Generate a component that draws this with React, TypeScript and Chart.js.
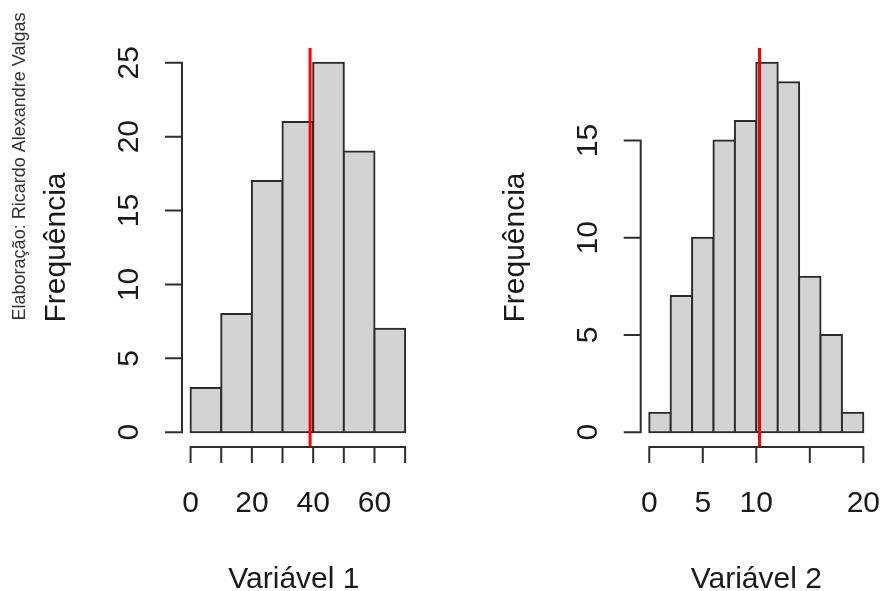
import React, { useEffect, useRef } from 'react';
import { Chart, registerables } from 'chart.js';

Chart.register(...registerables);

// ---- Data ----
const binCenters1 = [5, 15, 25, 35, 45, 55, 65];
const counts1 = [3, 8, 17, 21, 25, 19, 7];
const mean1 = 39.0;
const xTicks1 = [0, 10, 20, 30, 40, 50, 60, 70];
const xTickLabels1 = ['0', '', '20', '', '40', '', '60', ''];
const yTicks1 = [0, 5, 10, 15, 20, 25];
const yTickLabels1 = ['0', '5', '10', '15', '20', '25'];

const binCenters2 = [1, 3, 5, 7, 9, 11, 13, 15, 17, 19];
const counts2 = [1, 7, 10, 15, 16, 19, 18, 8, 5, 1];
const mean2 = 10.3;
const xTicks2 = [0, 5, 10, 15, 20];
const xTickLabels2 = ['0', '5', '10', '', '20'];
const yTicks2 = [0, 5, 10, 15];
const yTickLabels2 = ['0', '5', '10', '15'];

const xTitle1 = 'Variável 1';
const xTitle2 = 'Variável 2';
const yTitle = 'Frequência';
const caption = 'Elaboração: Ricardo Alexandre Valgas';

const FONT = '"Liberation Sans", Arial, Helvetica, sans-serif';
const TEXT = '#1a1a1a';
const AXIS = '#2e2e2e';

const rAxes = {
  id: 'rAxes',
  afterDraw(chart: any, _args: any, opts: any) {
    const ctx = chart.ctx;
    const xs = chart.scales.x;
    const ys = chart.scales.y;
    const ca = chart.chartArea;
    ctx.save();
    ctx.strokeStyle = AXIS;
    ctx.lineWidth = 2;
    ctx.lineCap = 'butt';

    // x axis
    const y0 = ca.bottom;
    const xt = opts.xTicks as number[];
    ctx.beginPath();
    ctx.moveTo(xs.getPixelForValue(xt[0]) - 1, y0);
    ctx.lineTo(xs.getPixelForValue(xt[xt.length - 1]) + 1, y0);
    xt.forEach((v) => {
      const x = xs.getPixelForValue(v);
      ctx.moveTo(x, y0);
      ctx.lineTo(x, y0 + 16);
    });
    ctx.stroke();

    // y axis
    const x0 = ca.left;
    const yt = opts.yTicks as number[];
    ctx.beginPath();
    ctx.moveTo(x0, ys.getPixelForValue(yt[0]) + 1);
    ctx.lineTo(x0, ys.getPixelForValue(yt[yt.length - 1]) - 1);
    yt.forEach((v) => {
      const y = ys.getPixelForValue(v);
      ctx.moveTo(x0, y);
      ctx.lineTo(x0 - 17, y);
    });
    ctx.stroke();

    ctx.fillStyle = TEXT;
    ctx.font = `${opts.fontSize}px ${FONT}`;
    ctx.textBaseline = 'alphabetic';
    ctx.textAlign = 'center';
    xt.forEach((v, i) => {
      const lab = opts.xTickLabels[i];
      if (lab) ctx.fillText(lab, xs.getPixelForValue(v), y0 + 65);
    });
    yt.forEach((v, i) => {
      const lab = opts.yTickLabels[i];
      if (!lab) return;
      ctx.save();
      ctx.translate(x0 - 44, ys.getPixelForValue(v));
      ctx.rotate(-Math.PI / 2);
      ctx.fillText(lab, 0, 0);
      ctx.restore();
    });

    // titles
    ctx.fillText(opts.xTitle, (ca.left + ca.right) / 2 + (opts.xTitleShift || 0), y0 + 141);
    ctx.save();
    ctx.translate(x0 - 117, (ca.top + ca.bottom) / 2);
    ctx.rotate(-Math.PI / 2);
    ctx.fillText(opts.yTitle, 0, 0);
    ctx.restore();

    if (opts.caption) {
      ctx.save();
      ctx.font = `${opts.captionSize}px ${FONT}`;
      ctx.fillStyle = '#333333';
      ctx.translate(opts.captionX, opts.captionY);
      ctx.rotate(-Math.PI / 2);
      ctx.fillText(opts.caption, 0, 0);
      ctx.restore();
    }
    ctx.restore();
  },
};

type HistProps = {
  left: number;
  width: number;
  pad: { left: number; right: number; top: number; bottom: number };
  centers: number[];
  counts: number[];
  mean: number;
  binWidth: number;
  xMin: number;
  xMax: number;
  yMin: number;
  yMax: number;
  xTicks: number[];
  xTickLabels: string[];
  yTicks: number[];
  yTickLabels: string[];
  xTitle: string;
  xTitleShift?: number;
  caption?: string;
};

function Hist(p: HistProps) {
  const ref = useRef<HTMLCanvasElement>(null);
  useEffect(() => {
    if (!ref.current) return;
    const chart = new Chart(ref.current, {
      type: 'bar',
      data: {
        datasets: [
          {
            type: 'line',
            data: [
              { x: p.mean, y: p.yMin },
              { x: p.mean, y: p.yMax },
            ],
            borderColor: '#ff0000',
            borderWidth: 3,
            pointRadius: 0,
            fill: false,
          } as any,
          {
            type: 'bar',
            data: p.centers.map((c, i) => ({ x: c, y: p.counts[i] })),
            backgroundColor: '#d3d3d3',
            borderColor: '#2b2b2b',
            borderWidth: 2,
            borderSkipped: false,
            inflateAmount: 1,
            barThickness: 'flex',
            barPercentage: 1,
            categoryPercentage: 1,
          } as any,
        ],
      },
      options: {
        animation: false,
        responsive: false,
        maintainAspectRatio: false,
        events: [],
        layout: { padding: p.pad },
        plugins: {
          legend: { display: false },
          tooltip: { enabled: false },
          rAxes: {
            xTicks: p.xTicks,
            xTickLabels: p.xTickLabels,
            yTicks: p.yTicks,
            yTickLabels: p.yTickLabels,
            xTitle: p.xTitle,
            xTitleShift: p.xTitleShift,
            yTitle,
            fontSize: 30,
            caption: p.caption,
            captionSize: 18,
            captionX: 25,
            captionY: 166.5,
          },
        } as any,
        scales: {
          x: {
            type: 'linear',
            display: false,
            offset: false,
            min: p.xMin,
            max: p.xMax,
            bounds: 'data',
            ticks: { stepSize: p.binWidth, includeBounds: false },
          },
          y: {
            type: 'linear',
            display: false,
            min: p.yMin,
            max: p.yMax,
          },
        },
      },
      plugins: [rAxes as any],
    });
    return () => chart.destroy();
  }, []);
  return (
    <canvas
      ref={ref}
      width={p.width}
      height={591}
      style={{ position: 'absolute', left: p.left, top: 0, width: p.width, height: 591 }}
    />
  );
}

export default function App() {
  return (
    <div
      style={{
        position: 'fixed',
        left: 0,
        top: 0,
        width: 883,
        height: 591,
        background: '#ffffff',
        overflow: 'hidden',
      }}
    >
      <Hist
        left={0}
        width={441}
        pad={{ left: 182, right: 441 - 413.7, top: 48, bottom: 144 }}
        centers={binCenters1}
        counts={counts1}
        mean={mean1}
        binWidth={10}
        xMin={-2.8}
        xMax={72.8}
        yMin={-1}
        yMax={26}
        xTicks={xTicks1}
        xTickLabels={xTickLabels1}
        yTicks={yTicks1}
        yTickLabels={yTickLabels1}
        xTitle={xTitle1}
        xTitleShift={-4}
        caption={caption}
      />
      <Hist
        left={441}
        width={442}
        pad={{ left: 199.7, right: 442 - 430.9, top: 48, bottom: 144 }}
        centers={binCenters2}
        counts={counts2}
        mean={mean2}
        binWidth={2}
        xMin={-0.8}
        xMax={20.8}
        yMin={-0.76}
        yMax={19.76}
        xTicks={xTicks2}
        xTickLabels={xTickLabels2}
        yTicks={yTicks2}
        yTickLabels={yTickLabels2}
        xTitle={xTitle2}
      />
    </div>
  );
}
